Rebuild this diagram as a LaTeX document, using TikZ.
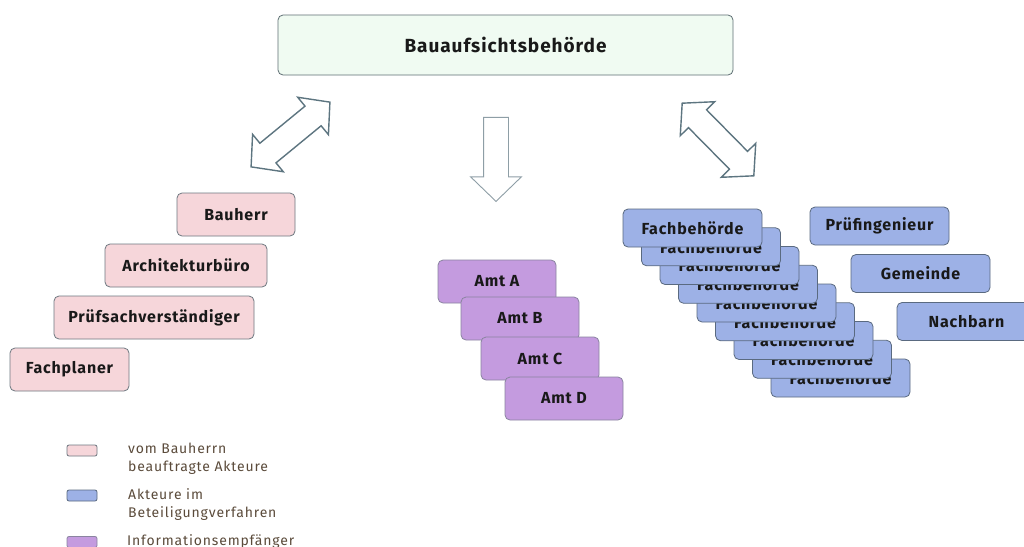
\documentclass[tikz,border=0pt]{standalone}
\usepackage{fontspec}
\setmainfont{Fira Sans}
\newfontfamily\boxfont[LetterSpace=5]{Fira Sans}
\newfontfamily\legfont[LetterSpace=6]{Fira Sans}
\usetikzlibrary{shapes.arrows}
\definecolor{grfill}{HTML}{F0FBF2}
\definecolor{grline}{HTML}{5E6E73}
\definecolor{pkfill}{HTML}{F6D6DA}
\definecolor{pkline}{HTML}{6E7880}
\definecolor{pufill}{HTML}{C49BDF}
\definecolor{puline}{HTML}{8A84A0}
\definecolor{blfill}{HTML}{9DB1E6}
\definecolor{blline}{HTML}{5A6A80}
\definecolor{arline}{HTML}{5D7580}
\definecolor{legtext}{HTML}{5B4B3B}
\tikzset{
  box/.style={draw, rounded corners=5pt, line width=0.8pt, inner sep=0pt,
    font=\boxfont\fontsize{16}{19}\selectfont\bfseries, text=black!90},
  topbox/.style={box, fill=grfill, draw=grline, minimum width=455pt, minimum height=60pt,
    font=\boxfont\fontsize{19}{22}\selectfont\bfseries},
  pkbox/.style={box, fill=pkfill, draw=pkline, minimum height=43pt},
  pubox/.style={box, fill=pufill, draw=puline, minimum width=118pt, minimum height=43pt},
  blbox/.style={box, fill=blfill, draw=blline, minimum width=139pt, minimum height=38pt},
  dblarr/.style={double arrow, draw=arline, line width=1.4pt, fill=white, inner sep=12pt,
    double arrow head extend=11.5pt, double arrow tip angle=96, minimum height=102pt},
  downarr/.style={single arrow, draw=arline!70, line width=0.9pt, fill=white, inner sep=12pt,
    single arrow head extend=13pt, single arrow tip angle=92, minimum height=84pt},
  legsw/.style={draw, rounded corners=2pt, line width=0.8pt, minimum width=30pt, minimum height=11pt, inner sep=0pt},
  legtx/.style={anchor=north west, align=left, inner sep=0pt, text=legtext,
    font=\legfont\fontsize{14}{18}\selectfont}
}
\begin{document}
\begin{tikzpicture}[x=1pt,y=-1pt]
\clip (0,0) rectangle (1024,546);
\fill[white] (0,0) rectangle (1024,546);

\node[topbox] (bab) at (505.5,45) {Bauaufsichtsbehörde};

\node[pkbox, minimum width=118pt] (bh) at (236,214.5) {Bauherr};
\node[pkbox, minimum width=162pt] (ab) at (186,265.5) {Architekturbüro};
\node[pkbox, minimum width=200pt] (psv) at (154,317.5) {Prüfsachverständiger};
\node[pkbox, minimum width=119pt] (fp) at (69.5,369.5) {Fachplaner};

\node[pubox] (ama) at (497,281.5) {Amt A};
\node[pubox] (amb) at (520,318.5) {Amt B};
\node[pubox] (amc) at (540,358.5) {Amt C};
\node[pubox] (amd) at (564,398.5) {Amt D};

\foreach \i in {8,7,...,0}{
  \node[blbox] (fb\i) at ({692.5+18.5*\i},{228+18.75*\i}) {Fachbehörde};
}
\node[blbox] (pi) at (879.5,226) {Prüfingenieur};
\node[blbox] (gm) at (920.5,273.5) {Gemeinde};
\node[blbox] (nb) at (966.5,321.5) {Nachbarn};

\node[dblarr, rotate=39.4] (al) at (290.5,134.5) {};
\node[dblarr, rotate=-45.4] (ar) at (718,139.5) {};
\node[downarr, rotate=-90, anchor=tip] (ad) at (496,202) {};

\node[legsw, fill=pkfill, draw=pkline] (l1) at (82,450.5) {};
\node[legsw, fill=blfill, draw=blline] (l2) at (82,495.5) {};
\node[legsw, fill=pufill, draw=puline] (l3) at (82,542) {};
\node[legtx] (t1) at (128,442.5) {vom Bauherrn\\beauftragte Akteure};
\node[legtx] (t2) at (128,488) {Akteure im\\Beteiligungverfahren};
\node[legtx] (t3) at (127,534.5) {Informationsempfänger};
\end{tikzpicture}
\end{document}
